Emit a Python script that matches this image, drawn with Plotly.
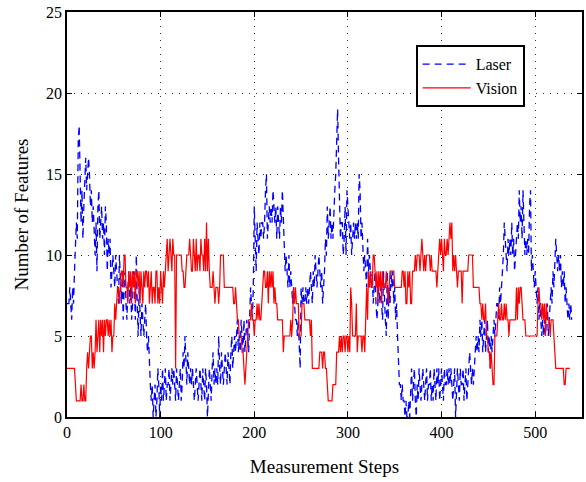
import plotly.graph_objects as go

laser = [
 7,7,7,8,7,6,8,7,9,11, 12,11,17,18,15,12,14,11,13,15,
 16,14,15,16,15,13,14,12,13,11, 10,12,9,13,14,11,12,13,11,12,
 10,13,12,9,11,10,11,8,9,10, 9,8,10,9,8,7,10,8,7,9,
 6,8,9,7,6,8,9,7,8,6, 7,9,8,6,10,7,5,8,6,5,
 7,6,5,6,7,5,4,5,3,2, 1,2,0,1,2,0,1,3,2,0,
 2,1,3,1,2,3,1,2,2,3, 1,2,3,2,3,2,1,3,2,1,
 2,3,1,2,4,3,5,3,2,4, 3,2,3,2,3,2,1,2,3,2,
 1,2,3,2,1,3,2,1,3,2, 0,2,3,2,1,3,4,2,3,2,
 3,2,5,3,2,4,3,2,3,4, 3,2,4,3,2,4,5,3,4,5,
 4,5,6,4,5,4,6,5,4,6, 4,5,6,5,4,6,8,7,6,8,
 13,11,9,12,11,10,12,11,12,12, 11,12,14,15,11,12,13,12,13,12,
 14,13,12,13,11,13,12,11,13,12, 14,12,10,9,10,9,8,10,8,9,
 8,7,8,7,6,6,5,6,4,3, 8,7,8,7,7,8,7,8,7,8,
 9,8,7,9,8,10,9,8,9,10, 9,8,9,7,8,9,11,10,13,11,
 12,13,11,12,11,13,14,15,17,19, 16,13,11,12,12,10,11,13,10,14,
 13,12,11,12,10,11,12,11,12,11, 12,11,15,14,11,12,10,9,10,9,
 8,11,9,10,9,8,9,7,8,9, 7,6,7,8,7,8,7,6,9,7,
 6,5,9,6,8,7,9,8,9,7, 8,6,7,5,3,2,2,1,2,1,
 1,0,1,0,0,1,0,2,3,1, 2,3,1,0,2,1,3,2,1,2,
 3,2,1,2,3,1,2,2,3,1, 2,1,3,2,1,3,2,3,1,2,
 3,2,1,3,2,2,3,2,3,2, 3,2,1,2,3,0,2,3,2,1,
 3,2,2,3,1,2,3,1,2,3, 4,3,2,3,2,3,4,5,4,5,
 4,6,5,6,4,5,6,4,5,6, 4,5,3,5,4,5,6,5,6,7,
 7,6,8,7,8,9,10,12,11,10, 9,11,10,11,10,12,10,11,9,10,
 11,12,11,14,12,13,11,14,12,10, 11,10,11,10,13,14,9,10,9,8,
 9,8,7,8,6,7,6,5,6,5, 6,5,6,7,5,6,7,8,7,9,
 8,10,11,10,9,10,9,10,8,9, 8,9,7,8,7,6,7,6,7,6,
]

vision = [
 3,3,3,3,3,3,3,3,3,2, 1,1,1,1,1,2,1,1,2,1,
 1,3,4,3,4,5,5,3,4,3, 4,6,4,5,6,4,6,5,6,4,
 6,5,6,6,5,6,5,6,4,5, 5,7,6,7,8,8,7,8,9,9,
 8,10,10,8,8,7,9,8,9,7, 9,8,9,7,9,9,8,9,7,9,
 8,7,9,8,9,9,8,9,7,8, 9,7,8,8,7,9,9,7,8,7,
 9,8,7,9,8,9,10,11,9,10, 11,10,9,11,10,10,3,10,10,10,
 10,10,10,9,9,8,8,9,10,10, 10,11,10,9,9,11,10,9,11,9,
 10,10,9,11,10,10,9,11,9,12, 9,11,9,8,8,8,9,8,7,8,
 8,8,7,8,10,10,10,10,8,8, 8,8,8,8,8,8,8,8,7,7,
 8,7,6,6,5,5,5,4,4,3, 2,3,4,5,6,6,6,7,6,6,
 5,6,6,7,6,7,6,6,7,8, 9,9,8,8,9,7,9,8,9,8,
 9,7,8,7,7,6,6,6,6,6, 6,4,5,5,5,5,5,5,5,6,
 5,6,8,7,8,7,7,7,5,5, 5,7,7,7,6,6,6,6,6,6,
 5,6,3,3,3,3,3,3,3,3, 4,4,4,3,4,4,3,3,2,1,
 1,1,1,1,2,2,2,2,4,4, 4,5,4,5,4,5,5,4,5,5,
 4,5,4,8,7,5,5,5,5,7, 4,5,5,5,5,4,5,5,4,6,
 8,6,9,8,9,8,8,10,10,9, 8,9,7,9,8,9,7,9,8,8,
 8,9,8,7,8,9,9,9,9,9, 8,8,8,8,8,8,8,8,9,9,
 8,9,7,7,9,8,9,7,7,9, 9,9,10,9,10,10,10,9,10,11,
 10,9,10,9,10,10,10,10,9,10, 9,9,9,9,9,8,9,10,11,10,
 11,10,9,11,10,10,11,10,11,12, 11,12,9,10,9,10,9,8,9,9,
 9,9,7,9,9,9,9,9,9,10, 10,10,10,10,8,8,8,8,8,8,
 8,7,7,6,7,6,6,7,5,5, 4,4,3,4,3,2,2,5,5,5,
 6,7,6,6,7,6,6,7,6,7, 6,6,5,6,6,6,6,6,6,6,
 8,6,8,7,8,8,7,6,6,6, 5,5,5,5,5,5,5,5,5,5,
 5,5,5,7,8,7,7,6,7,6, 7,5,7,6,6,6,5,6,6,6,
 5,4,3,3,3,3,3,3,3,3, 3,2,2,3,3,3,3,3,
]

x_ticks = [0, 100, 200, 300, 400, 500]
y_ticks = [0, 5, 10, 15, 20, 25]

steps_laser = list(range(len(laser)))
steps_vision = list(range(len(vision)))

FONT = "Liberation Serif, Times New Roman, serif"

fig = go.Figure()
fig.add_trace(go.Scatter(x=steps_laser, y=laser, mode="lines", name="Laser",
                         line=dict(color="#0000ff", width=1.3, dash="7px,5px")))
fig.add_trace(go.Scatter(x=steps_vision, y=vision, mode="lines", name="Vision",
                         line=dict(color="#ff0000", width=1.2)))

axis_common = dict(showline=True, linecolor="black", linewidth=1.5, mirror="ticks",
                   ticks="inside", ticklen=5, tickcolor="black",
                   showgrid=True, gridcolor="#333333", griddash="1px,6px", gridwidth=1,
                   zeroline=False, tickfont=dict(family=FONT, size=16, color="black"))

fig.update_xaxes(range=[0, 550], tickvals=x_ticks, **axis_common,
                 title=dict(text="Measurement Steps", font=dict(family=FONT, size=19, color="black"), standoff=20))
fig.update_yaxes(range=[0, 25], tickvals=y_ticks, **axis_common,
                 title=dict(text="Number of Features", font=dict(family=FONT, size=19, color="black"), standoff=12))

fig.update_layout(
    width=586, height=482,
    margin=dict(l=67, r=2, t=12, b=65),
    plot_bgcolor="white", paper_bgcolor="white",
    showlegend=True,
    legend=dict(x=0.677, y=0.918, xanchor="left", yanchor="top",
                bgcolor="white", bordercolor="black", borderwidth=2,
                font=dict(family=FONT, size=16, color="black"),
                tracegroupgap=0, itemwidth=48),
)

fig.write_html("out.html")
